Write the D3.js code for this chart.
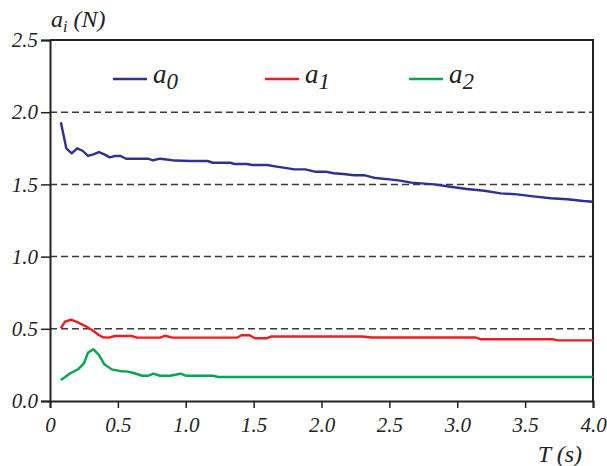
<!DOCTYPE html>
<html lang="en">
<head>
<meta charset="UTF-8">
<title>a_i vs T</title>
<script src="https://cdn.jsdelivr.net/npm/d3@7"></script>
<style>
    body { margin: 0; background: #fff; }
    text { font-family: "Liberation Serif", "Times New Roman", serif; font-style: italic; fill: #222; }
    .tick text { font-size: 21px; }
    .grid line { stroke: #3a3a3a; stroke-dasharray: 7,4; stroke-width: 1.5; }
</style>
</head>
<body>
<svg id="chart" width="607" height="466"></svg>
<script>
// data
const T0 = [0.08,0.12,0.16,0.2,0.24,0.28,0.32,0.36,0.4,0.44,0.48,0.52,0.56,0.64,0.72,0.76,0.81,0.86,0.92,1.03,1.16,1.2,1.33,1.36,1.45,1.49,1.6,1.67,1.72,1.8,1.88,1.95,2.03,2.09,2.16,2.24,2.32,2.4,2.5,2.58,2.66,2.83,2.95,3.07,3.2,3.32,3.44,3.56,3.69,3.81,3.93,4.0]
const A0 = [1.93,1.75,1.715,1.75,1.733,1.697,1.708,1.724,1.708,1.687,1.697,1.697,1.678,1.678,1.678,1.667,1.678,1.672,1.665,1.662,1.662,1.65,1.65,1.641,1.641,1.634,1.634,1.623,1.616,1.604,1.604,1.588,1.588,1.577,1.572,1.563,1.563,1.544,1.535,1.526,1.512,1.50,1.484,1.468,1.456,1.438,1.431,1.417,1.404,1.397,1.385,1.38]

const T1 = [0.08,0.11,0.155,0.21,0.26,0.31,0.36,0.39,0.43,0.48,0.6,0.64,0.81,0.85,0.9,1.38,1.41,1.47,1.51,1.6,1.63,2.3,2.37,3.13,3.17,3.70,3.74,4.0]
const A1 = [0.503,0.549,0.563,0.542,0.519,0.492,0.457,0.441,0.439,0.45,0.45,0.439,0.439,0.452,0.439,0.44,0.455,0.455,0.435,0.435,0.447,0.447,0.44,0.44,0.428,0.428,0.42,0.42]

const T2 = [0.08,0.15,0.21,0.25,0.28,0.32,0.36,0.4,0.455,0.53,0.565,0.615,0.68,0.725,0.76,0.81,0.885,0.96,1.0,1.2,1.24,4.0]
const A2 = [0.145,0.192,0.222,0.261,0.335,0.358,0.319,0.254,0.219,0.205,0.205,0.194,0.175,0.175,0.189,0.175,0.175,0.189,0.175,0.175,0.166,0.166]

const xTicks = [0, 0.5, 1.0, 1.5, 2.0, 2.5, 3.0, 3.5, 4.0]
const yTicks = [0, 0.5, 1.0, 1.5, 2.0, 2.5]
const gridVals = [0.5, 1.0, 1.5, 2.0]
const seriesNames = ["0", "1", "2"]
const seriesColors = ["#2e3192", "#ed1c24", "#00a651"]

const svg = d3.select("#chart")
const mLeft = 50, mRight = 593, mTop = 40, mBottom = 401

const x = d3.scaleLinear().domain([0, 4]).range([mLeft, mRight])
const y = d3.scaleLinear().domain([0, 2.5]).range([mBottom, mTop])

// dashed grid
svg.append("g").attr("class", "grid")
    .selectAll("line").data(gridVals).enter().append("line")
    .attr("x1", mLeft).attr("x2", mRight)
    .attr("y1", d => y(d)).attr("y2", d => y(d))

// frame top / right
svg.append("path")
    .attr("d", `M${mLeft},${mTop}H${mRight}V${mBottom}`)
    .attr("fill", "none").attr("stroke", "#222").attr("stroke-width", 2)

// axes
const xAxis = svg.append("g").attr("transform", `translate(0,${mBottom})`)
    .call(d3.axisBottom(x).tickValues(xTicks).tickSize(7)
        .tickFormat(d => d === 0 ? "0" : d3.format(".1f")(d)))
xAxis.selectAll(".tick text").attr("y", 31).attr("dy", null)
const yAxis = svg.append("g").attr("transform", `translate(${mLeft},0)`)
    .call(d3.axisLeft(y).tickValues(yTicks).tickSize(9).tickPadding(3)
        .tickFormat(d3.format(".1f")))
for (const ax of [xAxis, yAxis]) {
    ax.select(".domain").attr("stroke", "#222").attr("stroke-width", 2)
    ax.selectAll(".tick line").attr("stroke", "#222").attr("stroke-width", 1.5)
    ax.attr("font-family", null).attr("font-size", null)
}

// lines
const line = d3.line().x(d => x(d[0])).y(d => y(d[1]))
const series = [d3.zip(T0, A0), d3.zip(T1, A1), d3.zip(T2, A2)]
svg.append("g").selectAll("path").data(series).enter().append("path")
    .attr("d", line)
    .attr("fill", "none")
    .attr("stroke", (d, i) => seriesColors[i])
    .attr("stroke-width", 2.4)
    .attr("stroke-linejoin", "round")

// legend
const legX = [113, 265, 409]
const leg = svg.append("g").selectAll("g").data(seriesNames).enter().append("g")
    .attr("transform", (d, i) => `translate(${legX[i]},79)`)
leg.append("line").attr("x1", 0).attr("x2", 34)
    .attr("stroke", (d, i) => seriesColors[i]).attr("stroke-width", 2.5)
const lt = leg.append("text").attr("x", 40).attr("y", 4).attr("font-size", 27)
lt.append("tspan").text("a")
lt.append("tspan").attr("dy", 6).attr("font-size", 23).text(d => d)

// axis titles
const yt = svg.append("text").attr("x", 51).attr("y", 27).attr("font-size", 24)
yt.append("tspan").text("a")
yt.append("tspan").attr("dy", 5).attr("font-size", 16).text("i")
yt.append("tspan").attr("dy", -5).text(" (N)")

svg.append("text").attr("x", 582).attr("y", 462).attr("font-size", 24)
    .attr("text-anchor", "end").text("T (s)")
</script>
</body>
</html>
